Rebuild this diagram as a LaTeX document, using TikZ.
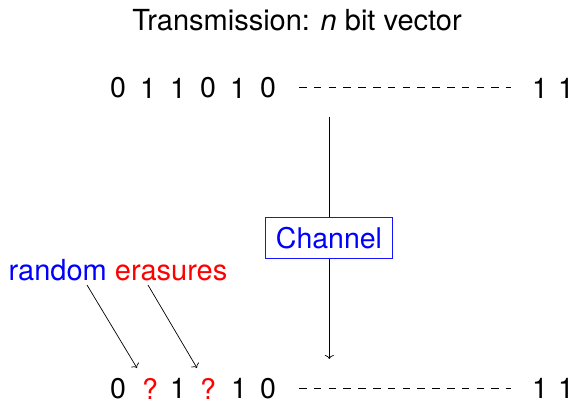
\documentclass[tikz,border=0pt]{standalone}
\usepackage{fontspec}
\setmainfont{TeX Gyre Heros}
\usetikzlibrary{arrows.meta}
\definecolor{chanblue}{RGB}{20,20,255}
\begin{document}
\begin{tikzpicture}[x=1pt,y=1pt,
  bigfont/.style={font=\fontsize{29}{33}\selectfont},
  bit/.style={inner sep=0pt,font=\fontsize{28.5}{32}\selectfont},
  lbl/.style={inner sep=0pt,bigfont},
  conn/.style={line width=0.7pt,-{To[length=4pt,width=9pt]}},
  dots/.style={line width=0.7pt,dash pattern=on 7.5pt off 7.3pt},
  chanbox/.style={draw=chanblue,line width=1pt,fill=white,text=blue,
    minimum width=127pt,minimum height=41pt,inner sep=0pt,
    font=\fontsize{28.5}{32}\selectfont}]
\useasboundingbox (0,0) rectangle (577,-402);

% title
\node[lbl] (title) at (297,-20) {Transmission: \textit{n} bit vector};

% transmitted vector
\foreach \b [count=\i from 0] in {0,1,1,0,1,0}
  \node[bit] (t\i) at (118+30*\i,-88) {\b};
\node[bit] (tn1) at (540,-88) {1};
\node[bit] (tn2) at (566,-88) {1};
\coordinate (td1) at (299,-87.5);
\coordinate (td2) at (511,-87.5);
\draw[dots] (td1) -- (td2);

% received vector
\node[bit] (r0) at (118,-388.5) {0};
\node[bit,text=red] (r1) at (150,-388.5) {?};
\node[bit] (r2) at (178,-388.5) {1};
\node[bit,text=red] (r3) at (208,-388.5) {?};
\node[bit] (r4) at (239,-388.5) {1};
\node[bit] (r5) at (268,-388.5) {0};
\node[bit] (rn1) at (540,-388.5) {1};
\node[bit] (rn2) at (566,-388.5) {1};
\coordinate (rd1) at (299,-388.5);
\coordinate (rd2) at (511,-388.5);
\draw[dots] (rd1) -- (rd2);

% channel
\coordinate (chtop) at (329.3,-116.7);
\coordinate (chbot) at (329.3,-359);
\draw[conn] (chtop) -- (chbot);
\node[chanbox] (chan) at (329,-238) {Channel};

% erasure annotation
\node[lbl] (note) at (118,-270) {\textcolor{blue}{random} \textcolor{red}{erasures}};
\coordinate (e1s) at (87,-285);
\coordinate (e1e) at (137,-368);
\coordinate (e2s) at (148,-285);
\coordinate (e2e) at (197,-368);
\draw[conn] (e1s) -- (e1e);
\draw[conn] (e2s) -- (e2e);
\end{tikzpicture}
\end{document}
